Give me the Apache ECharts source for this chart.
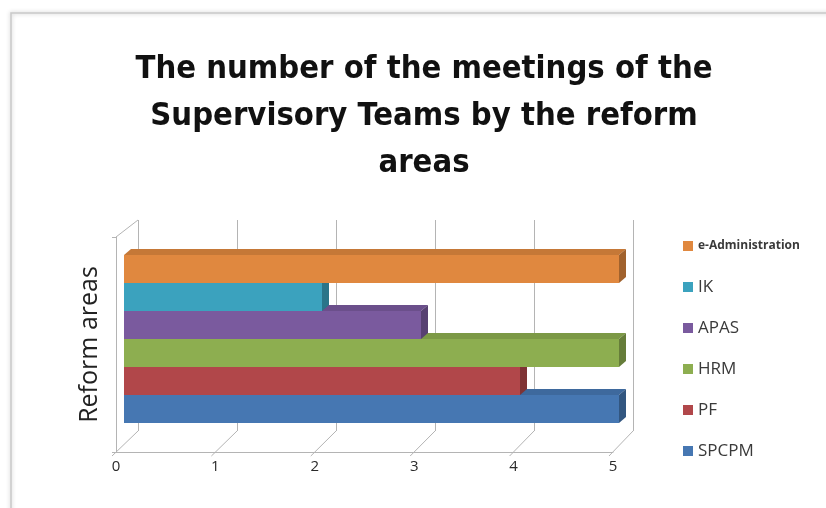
<!DOCTYPE html>
<html>
<head>
<meta charset="utf-8">
<script src="https://cdn.jsdelivr.net/npm/echarts@6/dist/echarts.min.js"></script>
<style>
  html, body { margin: 0; padding: 0; background: #fff; }
  #chart { width: 826px; height: 508px; }
</style>
</head>
<body>
<div id="chart"></div>
<script>
  // data, bottom bar first
  var areas = ['SPCPM', 'PF', 'HRM', 'APAS', 'IK', 'e-Administration'];
  var meetings = [5, 4, 5, 3, 2, 5];
  var colors = ['#4677B2', '#B1474A', '#8DAE50', '#7A5A9E', '#3BA2BE', '#E0883F'];
  var xTicks = [0, 1, 2, 3, 4, 5];

  var chart = echarts.init(document.getElementById('chart'));
  var lineColor = '#b4b4b4';
  var dx = 7, dy = 6; // bar depth

  function darken(c, k) {
    var a = echarts.color.parse(c);
    return 'rgb(' + Math.round(a[0] * k) + ',' + Math.round(a[1] * k) + ',' + Math.round(a[2] * k) + ')';
  }

  function renderBar(params, api) {
    var cat = api.value(1);
    var start = api.coord([0, cat]);
    var end = api.coord([api.value(0), cat]);
    var h = api.size([0, 1])[1];
    var top = end[1] - h / 2;
    var c = api.visual('color');
    var x0 = start[0], x1 = end[0];
    return {
      type: 'group',
      children: [
        { type: 'rect', shape: { x: x0, y: top, width: x1 - x0, height: h }, style: { fill: c } },
        { type: 'polygon', shape: { points: [[x0, top], [x0 + dx, top - dy], [x1 + dx, top - dy], [x1, top]] },
          style: { fill: darken(c, 0.88) } },
        { type: 'polygon', shape: { points: [[x1, top], [x1 + dx, top - dy], [x1 + dx, top + h - dy], [x1, top + h]] },
          style: { fill: darken(c, 0.72) } }
      ]
    };
  }

  var series = areas.map(function (name, i) {
    return {
      name: name,
      type: 'custom',
      xAxisIndex: 2,
      yAxisIndex: 2,
      itemStyle: { color: colors[i] },
      renderItem: renderBar,
      data: [[meetings[i], i]]
    };
  });

  var option = {
    animation: false,
    backgroundColor: '#fff',
    title: {
      text: 'The number of the meetings of the\nSupervisory Teams by the reform\nareas',
      left: 424,
      top: 46,
      textAlign: 'center',
      padding: 0,
      textStyle: {
        fontFamily: '"DejaVu Sans Condensed", sans-serif',
        fontWeight: 'bold',
        fontSize: 32.5,
        lineHeight: 47,
        color: '#111'
      }
    },
    legend: {
      orient: 'vertical',
      left: 678,
      top: 231,
      itemWidth: 10,
      itemHeight: 10,
      itemGap: 21,
      icon: 'rect',
      data: areas.slice().reverse(),
      formatter: function (name) {
        return name === 'e-Administration' ? '{s|' + name + '}' : name;
      },
      textStyle: {
        fontFamily: '"Open Sans", sans-serif',
        fontSize: 17,
        lineHeight: 20,
        color: '#3a3a3a',
        rich: {
          s: { fontFamily: '"Open Sans", sans-serif', fontSize: 12, lineHeight: 20, fontWeight: 'bold', color: '#3a3a3a' }
        }
      }
    },
    grid: [
      // front
      { left: 116, right: 213, top: 237, bottom: 56 },
      // back wall
      { left: 138, right: 193, top: 220, bottom: 77 },
      // bars
      { left: 124, right: 207, top: 255, bottom: 85 }
    ],
    xAxis: [
      {
        gridIndex: 0, type: 'value', min: 0, max: 5, interval: 1,
        axisLine: { show: true, lineStyle: { color: lineColor } },
        axisTick: { show: false },
        splitLine: { show: false },
        axisLabel: { margin: 7, fontFamily: '"Open Sans", sans-serif', fontSize: 15, color: '#2a2a2a' }
      },
      {
        gridIndex: 1, type: 'value', min: 0, max: 5, interval: 1,
        axisLine: { show: false }, axisTick: { show: false }, axisLabel: { show: false },
        splitLine: { show: true, lineStyle: { color: lineColor } }
      },
      {
        gridIndex: 2, type: 'value', min: 0, max: 5, show: false
      }
    ],
    yAxis: [
      {
        gridIndex: 0, type: 'category', data: [''],
        name: 'Reform areas', nameLocation: 'middle', nameRotate: 90, nameGap: 14,
        nameTextStyle: { fontFamily: '"Open Sans", sans-serif', fontSize: 25, color: '#222' },
        axisLine: { show: true, lineStyle: { color: lineColor } },
        axisTick: { show: true, length: 4, lineStyle: { color: lineColor } },
        axisLabel: { show: false }
      },
      { gridIndex: 1, type: 'category', data: [''], show: false },
      { gridIndex: 2, type: 'category', data: areas, show: false }
    ],
    series: series
  };
  chart.setOption(option);

  // 3d floor / side diagonals from the front axis to the back wall
  var lines = [];
  xTicks.forEach(function (v) {
    var xf = chart.convertToPixel({ xAxisIndex: 0 }, v);
    var xb = chart.convertToPixel({ xAxisIndex: 1 }, v);
    lines.push({ type: 'line', shape: { x1: xf - 4, y1: 456, x2: xb, y2: 431 }, style: { stroke: lineColor, lineWidth: 1 } });
  });
  lines.push({ type: 'line', shape: { x1: 116, y1: 237, x2: 138, y2: 220 }, style: { stroke: lineColor, lineWidth: 1 } });
  // picture frame (no bottom edge visible)
  lines.push({ type: 'rect', shape: { x: 11, y: 13, width: 840, height: 520 },
    style: { fill: 'none', stroke: '#c9c9c9', lineWidth: 1.5, shadowBlur: 4, shadowColor: 'rgba(0,0,0,0.25)' }, z: -1 });
  chart.setOption({ graphic: lines });
</script>
</body>
</html>
